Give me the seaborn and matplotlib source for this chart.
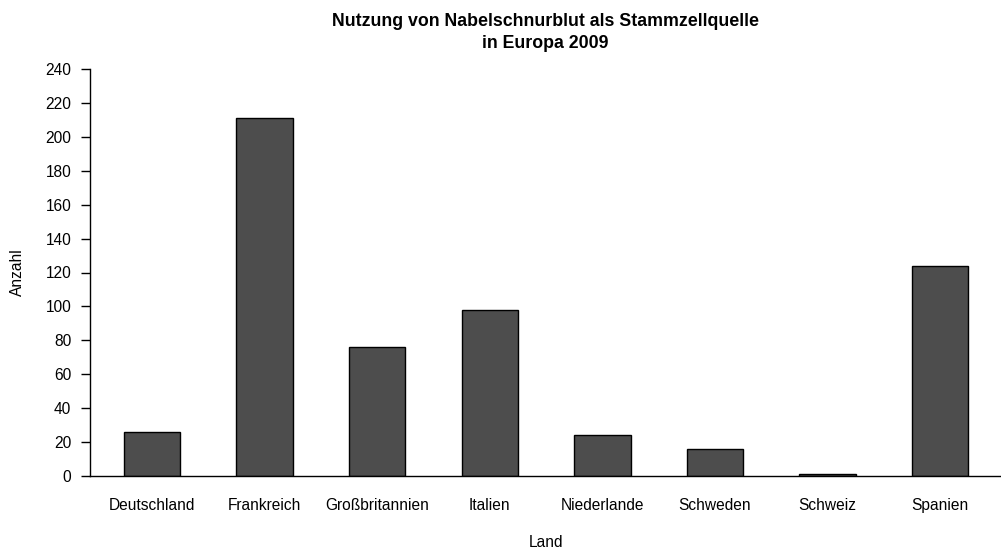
import matplotlib
matplotlib.use("Agg")
import matplotlib.pyplot as plt
import seaborn as sns
import pandas as pd

laender = ["Deutschland", "Frankreich", "Großbritannien", "Italien",
           "Niederlande", "Schweden", "Schweiz", "Spanien"]
anzahl = [26, 211, 76, 98, 24, 16, 1, 124]
y_ticks = list(range(0, 241, 20))

df = pd.DataFrame({"Land": laender, "Anzahl": anzahl})

sns.set_style("white")
plt.rcParams["font.family"] = ["Liberation Sans", "DejaVu Sans"]
plt.rcParams["text.color"] = "black"
plt.rcParams["axes.labelcolor"] = "black"
plt.rcParams["xtick.color"] = "black"
plt.rcParams["ytick.color"] = "black"

fig = plt.figure(figsize=(10.01, 5.49), dpi=100)
ax = fig.add_axes([90 / 1001, 73 / 549, 911 / 1001, 407 / 549])

sns.barplot(data=df, x="Land", y="Anzahl", color="#4d4d4d", saturation=1,
            width=0.5, edgecolor="black", linewidth=1, ax=ax)

ax.set_xlim(-0.55, 7.54)
ax.set_ylim(0, 240)
ax.set_yticks(y_ticks)
ax.tick_params(axis="y", direction="out", length=6.5, width=1,
               labelsize=11.2, left=True, pad=7)
ax.tick_params(axis="x", length=0, labelsize=11.2, pad=16)

for side in ["top", "right"]:
    ax.spines[side].set_visible(False)
for side in ["left", "bottom"]:
    ax.spines[side].set_color("black")
    ax.spines[side].set_linewidth(1)

ax.set_xlabel("Land", fontsize=11.2)
ax.set_ylabel("Anzahl", fontsize=11.2)
ax.xaxis.set_label_coords((546 - 90) / 911, -0.145)
ax.yaxis.set_label_coords(-0.071, 0.5)
ax.set_title("Nutzung von Nabelschnurblut als Stammzellquelle\nin Europa 2009",
             fontsize=12.8, fontweight="bold", pad=15, linespacing=1.4)

fig.savefig("out.png", dpi=100)
